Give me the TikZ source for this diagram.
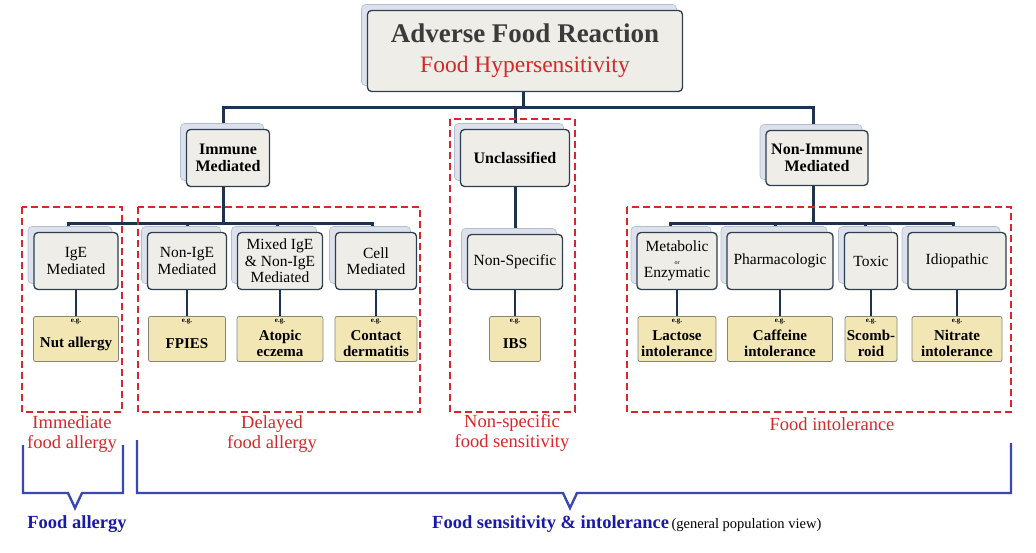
\documentclass[tikz,border=0pt]{standalone}
\usepackage{fontspec}
\setmainfont{Liberation Serif}
\usetikzlibrary{shadows,backgrounds}
\definecolor{boxfill}{HTML}{EEEDE7}
\definecolor{boxline}{HTML}{2E3E50}
\definecolor{backfill}{HTML}{DCE1EC}
\definecolor{backline}{HTML}{B4BDCF}
\definecolor{egfill}{HTML}{F3E6B5}
\definecolor{egline}{HTML}{85857C}
\definecolor{treeline}{HTML}{1E3350}
\definecolor{groupred}{HTML}{D62828}
\definecolor{bracketblue}{HTML}{3B47B3}
\definecolor{textblue}{HTML}{1A1AA8}
\newcommand{\egtop}{\rule{0pt}{20pt}}
\newcommand{\orword}{\\[-4pt]{\fontsize{6}{6}\selectfont or}\\[-3pt]}

\begin{document}
\begin{tikzpicture}[
  x=1pt,y=-1pt,
  catbox/.style={draw=boxline,fill=boxfill,line width=1.3pt,rounded corners=4pt,
    align=center,inner sep=1pt,
    copy shadow={shadow xshift=-6pt,shadow yshift=6pt,fill=backfill,draw=backline,line width=0.6pt}},
  egbox/.style={draw=egline,fill=egfill,line width=0.8pt,rounded corners=2pt,
    align=center,inner sep=1pt,minimum height=45pt,
    font=\fontsize{15}{16}\selectfont\bfseries,
    label={[font=\fontsize{7}{7}\selectfont\bfseries,anchor=north,inner sep=0pt,yshift=-2.5pt]north:e.g.}},
  conn/.style={draw=treeline,line width=3pt},
  egconn/.style={draw=treeline,line width=2.4pt},
  groupline/.style={draw=groupred,line width=1.7pt,dash pattern=on 7pt off 4pt},
  grouplabel/.style={text=groupred,align=center,font=\fontsize{18.5}{20}\selectfont},
  bracket/.style={draw=bracketblue,line width=2.4pt},
  ]
  \useasboundingbox (0,0) rectangle (1036,553);

  \node[catbox,minimum width=315pt,minimum height=81pt,font=\fontsize{23.5}{30}\selectfont] (top) at (525,51)
    {{\fontsize{27}{30}\selectfont\bfseries\color[HTML]{3B3B3B}Adverse Food Reaction}\\
     {\color{groupred}Food Hypersensitivity}};

  \begin{scope}[every node/.append style={minimum height=57pt,font=\fontsize{16}{17}\selectfont\bfseries}]
    \node[catbox,minimum width=83pt] (imm) at (228,158) {Immune\\Mediated};
    \node[catbox,minimum width=109pt] (uncl) at (515,158) {Unclassified};
    \node[catbox,minimum width=102pt,minimum height=55pt] (nonimm) at (817,158) {Non-Immune\\Mediated};
  \end{scope}

  \begin{scope}[every node/.append style={minimum height=57pt,font=\fontsize{15.5}{16.5}\selectfont}]
    \node[catbox,minimum width=84pt] (ige) at (76,261) {IgE\\Mediated};
    \node[catbox,minimum width=79pt] (nonige) at (187,261) {Non-IgE\\Mediated};
    \node[catbox,minimum width=85pt] (mixed) at (280,261) {Mixed IgE\\\& Non-IgE\\Mediated};
    \node[catbox,minimum width=81pt] (cell) at (376,261) {Cell\\Mediated};
    \node[catbox,minimum width=95pt,minimum height=55pt] (nonspec) at (515,262) {Non-Specific};
    \node[catbox,minimum width=80pt] (metab) at (677,261) {Metabolic\orword Enzymatic};
    \node[catbox,minimum width=106pt] (pharm) at (780,261) {Pharmacologic};
    \node[catbox,minimum width=53pt] (toxic) at (871,261) {Toxic};
    \node[catbox,minimum width=98pt] (idio) at (957,261) {Idiopathic};
  \end{scope}

  \node[egbox,minimum width=85pt] (nut) at (76,339) {\egtop Nut allergy};
  \node[egbox,minimum width=77pt] (fpies) at (187,339) {\egtop FPIES};
  \node[egbox,minimum width=86pt] (atopic) at (280,339) {\egtop Atopic\\eczema};
  \node[egbox,minimum width=82pt] (contact) at (376,339) {\egtop Contact\\dermatitis};
  \node[egbox,minimum width=51pt] (ibs) at (515,339) {\egtop IBS};
  \node[egbox,minimum width=78pt] (lactose) at (677,339) {\egtop Lactose\\intolerance};
  \node[egbox,minimum width=105pt] (caffeine) at (780,339) {\egtop Caffeine\\intolerance};
  \node[egbox,minimum width=52pt] (scomb) at (871,339) {\egtop Scomb-\\roid};
  \node[egbox,minimum width=90pt] (nitrate) at (957,339) {\egtop Nitrate\\intolerance};

  \coordinate (tbus) at (523,108);
  \coordinate (ibus) at (223,224);
  \coordinate (nbus) at (813,224);
  \begin{scope}[on background layer]
    \draw[conn] ([xshift=-2pt]top.south) -- (tbus);
    \draw[conn] (tbus) -| ([xshift=-5pt]imm.north);
    \draw[conn] (tbus) -| (uncl);
    \draw[conn] (tbus) -| ([xshift=-4pt]nonimm.north);
    \draw[conn] ([xshift=-5pt]imm.south) -- (ibus);
    \draw[conn] (ibus) -| ([xshift=-8pt]ige.north);
    \draw[conn] (ibus) -| (nonige);
    \draw[conn] (ibus) -| ([xshift=-3pt]mixed.north);
    \draw[conn] (ibus) -| ([xshift=-4pt]cell.north);
    \draw[conn] (uncl) -- (nonspec);
    \draw[conn] ([xshift=-4pt]nonimm.south) -- (nbus);
    \draw[conn] (nbus) -| ([xshift=-7pt]metab.north);
    \draw[conn] (nbus) -| ([xshift=-5pt]pharm.north);
    \draw[conn] (nbus) -| ([xshift=-6pt]toxic.north);
    \draw[conn] (nbus) -| ([xshift=-4pt]idio.north);
    \foreach \a/\b in {ige/nut,nonige/fpies,mixed/atopic,cell/contact,nonspec/ibs,
      metab/lactose,pharm/caffeine,toxic/scomb,idio/nitrate}
      \draw[egconn] (\a) -- (\b);
  \end{scope}

  \draw[groupline] (22,207) rectangle (122,412);
  \draw[groupline] (138,207) rectangle (420,412);
  \draw[groupline] (450,119) rectangle (575,412);
  \draw[groupline] (627,207) rectangle (1011,412);

  \node[grouplabel] (immlbl) at (72,434) {Immediate\\food allergy};
  \node[grouplabel] (dellbl) at (272,434) {Delayed\\food allergy};
  \node[grouplabel] (nslbl) at (512,433) {Non-specific\\food sensitivity};
  \node[grouplabel] (intlbl) at (832,424) {Food intolerance};

  \draw[bracket] (23,445) -- (23,493) -- (68,493) -- (75,508) -- (82,493) -- (123,493) -- (123,445);
  \draw[bracket] (137,440) -- (137,493) -- (563,493) -- (570,508) -- (577,493) -- (1011,493) -- (1011,443);

  \node[font=\fontsize{18.5}{20}\selectfont\bfseries,text=textblue] (allergy) at (77,524) {Food allergy};
  \node[anchor=west,inner sep=0pt] (sensitivity) at (432,524)
    {{\fontsize{18.5}{20}\selectfont\bfseries\color{textblue}Food sensitivity \& intolerance}
     {\fontsize{14.5}{16}\selectfont (general population view)}};
\end{tikzpicture}
\end{document}
